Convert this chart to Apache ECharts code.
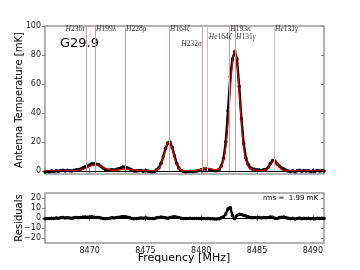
<!DOCTYPE html>
<html><head><meta charset="utf-8">
<script src="https://cdn.jsdelivr.net/npm/echarts@6/dist/echarts.min.js"></script>
<style>html,body{margin:0;padding:0;background:#fff}#c{width:360px;height:270px}</style>
</head><body><div id="c"></div>
<script>
// Channel frequencies [MHz]
const freq = [
 8466.0,8466.2,8466.4,8466.6,8466.8,8467.0,8467.2,8467.4,8467.6,8467.8,
 8468.0,8468.2,8468.4,8468.6,8468.8,8469.0,8469.2,8469.4,8469.6,8469.8,
 8470.0,8470.2,8470.4,8470.6,8470.8,8471.0,8471.2,8471.4,8471.6,8471.8,
 8472.0,8472.2,8472.4,8472.6,8472.8,8473.0,8473.2,8473.4,8473.6,8473.8,
 8474.0,8474.2,8474.4,8474.6,8474.8,8475.0,8475.2,8475.4,8475.6,8475.8,
 8476.0,8476.2,8476.4,8476.6,8476.8,8477.0,8477.2,8477.4,8477.6,8477.8,
 8478.0,8478.2,8478.4,8478.6,8478.8,8479.0,8479.2,8479.4,8479.6,8479.8,
 8480.0,8480.2,8480.4,8480.6,8480.8,8481.0,8481.2,8481.4,8481.6,8481.8,
 8482.0,8482.2,8482.4,8482.6,8482.8,8483.0,8483.2,8483.4,8483.6,8483.8,
 8484.0,8484.2,8484.4,8484.6,8484.8,8485.0,8485.2,8485.4,8485.6,8485.8,
 8486.0,8486.2,8486.4,8486.6,8486.8,8487.0,8487.2,8487.4,8487.6,8487.8,
 8488.0,8488.2,8488.4,8488.6,8488.8,8489.0,8489.2,8489.4,8489.6,8489.8,
 8490.0,8490.2,8490.4,8490.6,8490.8,8491.0
];
// Observed antenna temperature [mK]
const observed = [
 -0.6,-0.2,-0.4,0.0,-0.3,0.3,-0.1,0.4,0.6,0.1,
 0.5,0.3,0.0,0.5,0.9,0.9,1.4,2.2,2.9,3.3,
 4.2,5.0,5.0,4.7,4.4,3.4,2.2,1.1,0.8,0.7,
 1.0,0.7,1.2,1.6,2.2,2.9,2.7,2.1,1.5,0.7,
 0.1,0.1,0.2,0.4,-0.1,0.4,0.0,-0.3,-0.4,-0.2,
 0.9,2.2,5.4,10.0,15.5,19.3,20.1,16.2,10.6,5.3,
 2.2,0.4,-0.2,-0.4,-0.2,-0.1,-0.3,-0.1,0.0,0.4,
 1.0,1.4,1.5,1.3,0.9,0.5,0.2,0.3,1.1,3.5,
 8.8,20.3,41.6,65.0,77.3,82.4,77.3,58.3,36.1,18.9,
 9.2,4.5,2.3,1.4,1.2,0.7,0.8,0.4,1.0,1.1,
 2.6,5.3,7.3,6.9,4.9,3.5,2.1,1.4,0.6,0.0,
 -0.2,0.3,-0.4,0.2,0.5,-0.1,0.4,0.0,0.3,-0.3,
 0.2,-0.1,0.4,0.0,0.3,0.1
];
// Fitted model [mK]
const model = [
 0.2,0.2,0.2,0.2,0.2,0.2,0.2,0.2,0.2,0.2,
 0.2,0.2,0.23,0.28,0.38,0.55,0.84,1.28,1.87,2.55,
 3.25,3.83,4.16,4.16,3.83,3.25,2.55,1.88,1.30,0.89,
 0.67,0.60,0.67,0.84,1.05,1.26,1.38,1.38,1.26,1.05,
 0.81,0.59,0.42,0.32,0.25,0.22,0.2,0.2,0.22,0.3,
 0.66,1.8,4.5,9.4,15.3,19.6,19.6,15.3,9.4,4.5,
 1.8,0.66,0.3,0.22,0.2,0.21,0.25,0.35,0.57,0.94,
 1.41,1.86,2.06,1.94,1.61,1.28,1.11,1.23,1.79,3.31,
 7.31,16.3,32.6,54.5,74.8,83.2,74.8,54.5,32.6,16.3,
 7.31,3.3,1.74,1.08,0.74,0.54,0.4,0.33,0.4,0.83,
 2.1,4.3,6.55,7.12,5.5,3.1,1.3,0.5,0.26,0.2,
 0.15,0.15,0.15,0.15,0.15,0.15,0.15,0.15,0.15,0.15,
 0.15,0.15,0.15,0.15,0.15,0.15
];
// Residuals [mK]
const residuals = [
 -0.8,-0.4,-0.6,-0.2,-0.5,0.1,-0.3,0.2,0.4,-0.1,
 0.3,0.1,-0.2,0.2,0.5,0.3,0.6,0.9,1.0,0.7,
 0.9,1.2,0.8,0.5,0.6,0.1,-0.4,-0.8,-0.5,-0.2,
 0.3,0.1,0.5,0.8,1.1,1.6,1.3,0.7,0.2,-0.4,
 -0.7,-0.5,-0.2,0.1,-0.3,0.2,-0.2,-0.5,-0.6,-0.5,
 0.2,0.4,0.9,0.6,0.2,-0.3,0.5,0.9,1.2,0.8,
 0.4,-0.3,-0.5,-0.6,-0.4,-0.3,-0.5,-0.4,-0.6,-0.5,
 -0.4,-0.5,-0.6,-0.6,-0.7,-0.8,-0.9,-0.9,-0.7,0.2,
 1.5,4.0,9.0,10.5,2.5,-0.8,2.5,3.8,3.5,2.6,
 1.9,1.2,0.6,0.3,0.5,0.2,0.4,0.1,0.6,0.3,
 0.5,1.0,0.7,-0.2,-0.6,0.4,0.8,0.9,0.3,-0.2,
 -0.8,-0.3,-0.9,-0.4,-0.1,-0.7,-0.2,-0.6,-0.3,-0.8,
 -0.4,-0.7,-0.2,-0.6,-0.3,-0.5
];
const xTicks = [8470, 8475, 8480, 8485, 8490];
const tempTicks = [0, 20, 40, 60, 80, 100];
const residTicks = [-20, -10, 0, 10, 20];
const lineFreqs = [8469.67, 8470.48, 8473.17, 8477.11, 8480.13, 8480.58, 8482.51, 8483.03, 8486.52];
const lineNames = ['H236τ', 'H199λ', 'H228ρ', 'H164ζ', 'H232σ', 'He164ζ', 'H193κ', 'H131γ', 'He131γ'];
const sourceName = 'G29.9';
const rmsText = 'rms =  1.99 mK';

// layout for line labels (row height in data units, side)
const rowY = [97.6, 92.2, 87.4];
const labelRow = [0, 0, 0, 0, 2, 1, 0, 1, 0];
const labelSide = ['left', 'right', 'right', 'right', 'left', 'right', 'right', 'right', 'right'];

const chart = echarts.init(document.getElementById('c'), null, {renderer: 'canvas'});
const tickFont = {fontSize: 8, color: '#222', fontFamily: 'DejaVu Sans'};
const frameColor = '#999999';

function xAx(grid, pos, labels) {
  return {
    type: 'value', gridIndex: grid, position: pos, min: 8466, max: 8491,
    axisLine: {show: false}, splitLine: {show: false},
    axisTick: {show: true, inside: true, length: 3, lineStyle: {color: '#888'}, customValues: xTicks},
    axisLabel: Object.assign({show: labels, margin: 4, customValues: xTicks, formatter: v => String(v)}, tickFont)
  };
}
function yAx(grid, pos, min, max, ticks, labels) {
  return {
    type: 'value', gridIndex: grid, position: pos, min: min, max: max,
    axisLine: {show: false}, splitLine: {show: false},
    axisTick: {show: true, inside: pos === 'right', length: 3, lineStyle: {color: '#888'}, customValues: ticks},
    axisLabel: Object.assign({show: labels, margin: 4, customValues: ticks,
      formatter: v => String(v).replace('-', '\u2212')}, tickFont)
  };
}

const pts = arr => freq.map((f, i) => [f, arr[i]]);

const option = {
  animation: false,
  backgroundColor: '#fff',
  grid: [
    {left: 45, top: 26, width: 279, height: 148, show: true, borderColor: frameColor, borderWidth: 1.5, backgroundColor: 'transparent'},
    {left: 45, top: 193, width: 279, height: 50, show: true, borderColor: frameColor, borderWidth: 1.5, backgroundColor: 'transparent'}
  ],
  xAxis: [xAx(0, 'bottom', false), xAx(0, 'top', false), xAx(1, 'bottom', true), xAx(1, 'top', false)],
  yAxis: [yAx(0, 'left', -2, 100, tempTicks, true), yAx(0, 'right', -2, 100, tempTicks, false),
          yAx(1, 'left', -25, 25, residTicks, true), yAx(1, 'right', -25, 25, residTicks, false)],
  series: [
    {
      type: 'line', xAxisIndex: 0, yAxisIndex: 0, data: [], z: 1, silent: true,
      markLine: {
        silent: true, symbol: 'none', label: {show: false}, animation: false,
        data: lineFreqs.map((f, i) => ({xAxis: f, lineStyle: {color: lineNames[i].startsWith('He') ? '#dcb6bf' : '#bea4a4', width: 1, type: 'solid'}}))
          .concat([{yAxis: 0, lineStyle: {color: '#000', width: 1, type: 'solid'}}])
      }
    },
    {
      type: 'line', xAxisIndex: 0, yAxisIndex: 0, data: pts(observed), z: 3,
      showSymbol: true, symbol: 'circle', symbolSize: 3.5, itemStyle: {color: '#000'},
      lineStyle: {color: '#000', width: 2.4}
    },
    {
      type: 'line', xAxisIndex: 0, yAxisIndex: 0, data: pts(model), z: 4,
      showSymbol: false, smooth: 0.3, lineStyle: {color: '#e00000', width: 1.2}
    },
    {
      type: 'scatter', xAxisIndex: 0, yAxisIndex: 0, symbolSize: 0, z: 5,
      data: lineFreqs.map((f, i) => ({value: [f, rowY[labelRow[i]]], name: lineNames[i],
        label: {position: labelSide[i]}})),
      label: {
        show: true, distance: 1,
        formatter: p => p.name.replace(/^([A-Za-z]+)(\d+)(.)$/, '{i|$1}$2{i|$3}'),
        fontFamily: 'Liberation Serif', fontSize: 7.5, color: '#000',
        rich: {i: {fontStyle: 'italic', fontFamily: 'Liberation Serif', fontSize: 7.5, color: '#000'}}
      }
    },
    {
      type: 'line', xAxisIndex: 2, yAxisIndex: 2, data: pts(residuals), z: 3,
      showSymbol: true, symbol: 'circle', symbolSize: 3.5, itemStyle: {color: '#000'},
      lineStyle: {color: '#000', width: 2.4},
      markLine: {silent: true, symbol: 'none', label: {show: false}, animation: false,
        data: [{yAxis: 0, lineStyle: {color: '#000', width: 1, type: 'solid'}}]}
    }
  ],
  graphic: [
    {type: 'text', x: 60, y: 44, style: {text: sourceName, fontSize: 13, fontFamily: 'DejaVu Sans', fill: '#000', verticalAlign: 'middle', align: 'left'}},
    {type: 'text', x: 318, y: 198, style: {text: rmsText, fontSize: 7, fontFamily: 'DejaVu Sans', fill: '#000', verticalAlign: 'middle', align: 'right'}},
    {type: 'text', x: 19, y: 100, rotation: Math.PI / 2, style: {text: 'Antenna Temperature [mK]', fontSize: 10, fontFamily: 'DejaVu Sans', fill: '#000', verticalAlign: 'middle', align: 'center'}},
    {type: 'text', x: 19, y: 218, rotation: Math.PI / 2, style: {text: 'Residuals', fontSize: 10, fontFamily: 'DejaVu Sans', fill: '#000', verticalAlign: 'middle', align: 'center'}},
    {type: 'text', x: 184, y: 258, style: {text: 'Frequency [MHz]', fontSize: 11, fontFamily: 'DejaVu Sans', fill: '#000', verticalAlign: 'middle', align: 'center'}}
  ]
};
chart.setOption(option);
</script>
</body></html>
